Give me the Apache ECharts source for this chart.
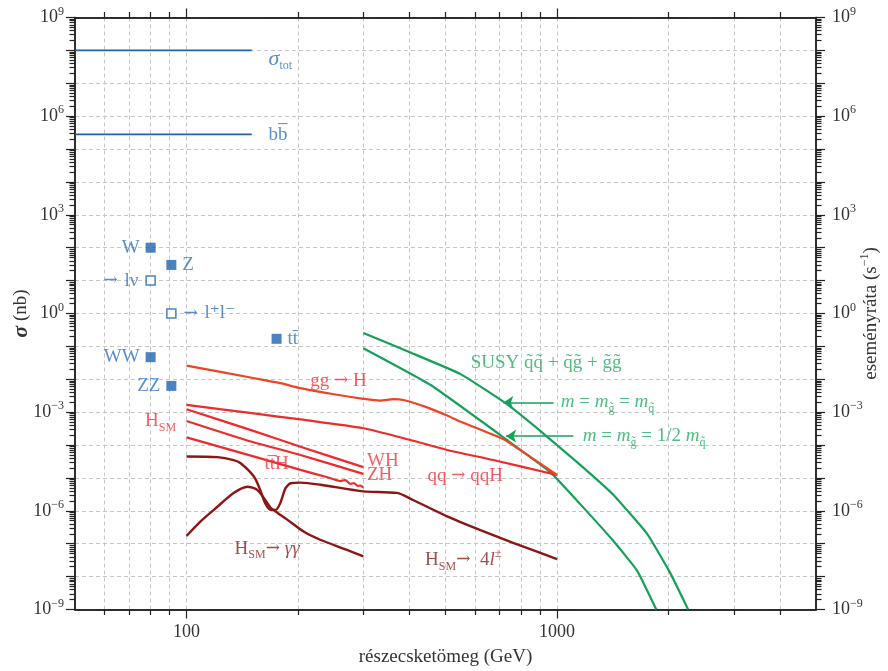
<!DOCTYPE html>
<html>
<head>
<meta charset="utf-8">
<script src="https://cdn.jsdelivr.net/npm/echarts@6/dist/echarts.min.js"></script>
<style>
html, body { margin: 0; background: #fff; }
#chart { width: 888px; height: 671px; }
</style>
</head>
<body>
<div id="chart"></div>
<script>
// tick values
const xMajor = [100, 1000];
const xMinor = [60, 70, 80, 90, 200, 300, 400, 500, 600, 700, 800, 900, 2000, 3000, 4000];
const yDecades = [1e-9, 1e-8, 1e-7, 1e-6, 1e-5, 1e-4, 1e-3, 1e-2, 1e-1, 1, 1e1, 1e2, 1e3, 1e4, 1e5, 1e6, 1e7, 1e8, 1e9];
const yLabels = [1e-9, 1e-6, 1e-3, 1, 1e3, 1e6, 1e9];
const yMinor = [];
for (let e = -9; e < 9; e++) for (let k = 2; k <= 9; k++) yMinor.push(k * Math.pow(10, e));

// cross sections (nb) vs mass (GeV)
const sigmaTot = [[50, 1e8], [150, 1e8]];
const bbbar = [[50, 2.8e5], [150, 2.8e5]];
const filledPts = [['W', 80, 100], ['Z', 91, 30], ['tt\u0304', 175, 0.17], ['WW', 80, 0.047], ['ZZ', 91, 0.0063]];
const openPts = [['l\u03bd', 80, 10], ['l\u207al\u207b', 91, 1]];

const ggH = [[100, 0.026], [150, 0.0111], [179, 7.6e-3], [203, 5.4e-3], [250, 3.5e-3], [300, 2.55e-3], [333, 2.25e-3],
  [362, 2.5e-3], [385, 2.35e-3], [446, 1.4e-3], [505, 7.9e-4], [548, 5.2e-4], [717, 1.5e-4], [794, 7.1e-5], [1000, 1.23e-5]];
const qqH = [[100, 1.67e-3], [150, 9.3e-4], [203, 6.0e-4], [300, 3.25e-4], [400, 1.45e-4], [505, 7.1e-5], [673, 3.5e-5], [1000, 1.23e-5]];
const WH = [[100, 1.22e-3], [150, 2.8e-4], [203, 8.9e-5], [300, 2.13e-5]];
const ZH = [[100, 5.4e-4], [150, 1.26e-4], [203, 5.0e-5], [300, 1.33e-5]];
const ttH = [[100, 1.71e-4], [150, 4.7e-5], [203, 1.76e-5], [240, 1.05e-5], [260, 8.05e-6], [268, 8.6e-6], [277, 6.6e-6],
  [283, 7.0e-6], [290, 5.7e-6], [294, 5.9e-6], [300, 5.1e-6]];
const Hgg = [[100, 1.74e-7], [109, 4.7e-7], [118.5, 1.07e-6], [134, 3.47e-6], [146, 5.4e-6], [155, 4.4e-6], [161.5, 2.5e-6],
  [168.5, 1.26e-6], [175.5, 8.9e-7], [187, 5.4e-7], [207, 2.34e-7], [229.5, 1.32e-7], [271, 6.5e-8], [300, 4.1e-8]];
const H4l = [[100, 4.5e-5], [121, 4.3e-5], [134, 3.5e-5], [140, 2.8e-5], [152, 1.1e-5], [158, 4.4e-6], [163, 1.7e-6],
  [168.5, 1.07e-6], [174, 1.07e-6], [179, 1.7e-6], [185, 4.9e-6], [191, 6.9e-6], [203, 7.2e-6], [230, 6.2e-6], [300, 3.9e-6],
  [370, 3.5e-6], [410, 2.1e-6], [505, 6.8e-7], [621, 2.6e-7], [764, 1.05e-7], [1000, 3.4e-8]];
const susyEq = [[300, 0.257], [402, 0.065], [548, 0.0146], [725, 1.91e-3], [901, 2.7e-4], [1155, 2.5e-5], [1418, 3.1e-6],
  [1751, 2.0e-7], [2020, 1.3e-8], [2259, 1e-9]];
const susyHalf = [[300, 0.088], [455, 6.8e-3], [734, 1.41e-4], [959, 1.5e-5], [1155, 1.6e-6], [1418, 1.23e-7], [1646, 1.5e-8], [1853, 1e-9]];

// annotation arrows: [x from, x to, y]
const arrows = [[979, 716, 1.96e-3], [1106, 729, 1.86e-4]];

const FONT = '"Liberation Serif", "DejaVu Serif", serif';
const ARROW_FONT = '"DejaVu Serif", serif';
const BLUE = '#1d63b3', BLUE_T = '#2f72c0';
const RED = '#ee2a2a', ORANGE = '#ef4326', RED_T = '#f0353c';
const DARK = '#8c1616', DARK_T = '#8e1c1c';
const GREEN = '#16a05a', GREEN_T = '#22ad62';
const GRID = '#c6c6c6', AXIS = '#222';

const rich = {
  r: { fontFamily: FONT, fontSize: 19 },
  a: { fontFamily: ARROW_FONT, fontSize: 17 },
  i: { fontFamily: FONT, fontSize: 19, fontStyle: 'italic' },
  is: { fontFamily: FONT, fontSize: 22, fontStyle: 'italic' },
  sub: { fontFamily: FONT, fontSize: 12, padding: [13, 0, 0, 0] },
  sup: { fontFamily: FONT, fontSize: 12, padding: [0, 0, 13, 0] }
};
function withColor(c) {
  const out = {};
  Object.keys(rich).forEach(k => { out[k] = Object.assign({ color: c }, rich[k]); });
  return out;
}

const notes = [
  [166, 5.5e7, '{is|\u03c3}{sub|tot}', 'right', BLUE_T],
  [166, 2.7e5, '{r|bb\u0305}', 'right', BLUE_T],
  [85.1, 5.4e-4, '{r|H}{sub|SM}', 'inside', RED_T],
  [257, 8.9e-3, '{r|gg }{a|\u2192}{r| H}', 'inside', RED_T],
  [175, 2.7e-5, '{r|tt\u0305H}', 'inside', RED_T],
  [306, 3.3e-5, '{r|WH}', 'right', RED_T],
  [306, 1.2e-5, '{r|ZH}', 'right', RED_T],
  [565, 1.16e-5, '{r|qq }{a|\u2192}{r| qqH}', 'inside', RED_T],
  [165, 7e-8, '{r|H}{sub|SM}{a|\u2192}{r| }{i|\u03b3\u03b3}', 'inside', DARK_T],
  [558, 3.2e-8, '{r|H}{sub|SM}{a|\u2192}{r|  4}{i|l}{sup|\u00b1}', 'inside', DARK_T],
  [583, 0.032, '{r|SUSY q\u0303q\u0303 + q\u0303g\u0303 + g\u0303g\u0303}', 'right', GREEN_T],
  [1020, 2.06e-3, '{i|m}{r| = }{i|m}{sub|g\u0303}{r| = }{i|m}{sub|q\u0303}', 'right', GREEN_T],
  [1170, 1.9e-4, '{i|m}{r| = }{i|m}{sub|g\u0303}{r| = 1/2 }{i|m}{sub|q\u0303}', 'right', GREEN_T]
];
const markerSide = { 'W': 'left', 'Z': 'right', 'tt\u0304': 'right', 'WW': 'left', 'ZZ': 'left', 'l\u03bd': 'left', 'l\u207al\u207b': 'right' };

function supLabel(v) {
  const e = Math.round(Math.log10(v));
  return '{b|10}{s|' + (e < 0 ? '\u2212' + (-e) : e) + '}';
}
const tickRich = {
  b: { fontFamily: FONT, fontSize: 18, color: '#333' },
  s: { fontFamily: FONT, fontSize: 12, color: '#333', padding: [0, 0, 12, 0] }
};
const gridLine = { show: true, lineStyle: { color: GRID, type: [4, 3], width: 1 } };
const axLine = { show: true, lineStyle: { color: AXIS, width: 1.5 } };

function xAxisDef(pos, ticks, len, labels, split) {
  return {
    type: 'log', logBase: 10, min: 50, max: 5000, position: pos,
    axisLine: axLine,
    axisTick: { show: true, customValues: ticks, length: len, lineStyle: { color: AXIS, width: 1.2 } },
    axisLabel: labels ? { show: true, customValues: ticks, margin: 14, fontFamily: FONT, fontSize: 18, color: '#333', formatter: v => String(Math.round(v)) } : { show: false },
    splitLine: split ? gridLine : { show: false },
    minorTick: { show: false }
  };
}
function yAxisDef(pos, ticks, len, labels, split) {
  return {
    type: 'log', logBase: 10, min: 1e-9, max: 1e9, position: pos,
    axisLine: axLine,
    axisTick: { show: true, customValues: ticks, length: len, lineStyle: { color: AXIS, width: 1.2 } },
    axisLabel: labels ? { show: true, customValues: yLabels, margin: pos === 'left' ? 11 : 16, formatter: supLabel, rich: tickRich } : { show: false },
    splitLine: split ? gridLine : { show: false }
  };
}

const xAxes = [
  xAxisDef('bottom', xMajor, 9, true, true),
  xAxisDef('bottom', xMinor, 5.5, false, true),
  xAxisDef('top', xMajor, 9, false, false),
  xAxisDef('top', xMinor, 5.5, false, false)
];
Object.assign(xAxes[0], {
  name: 'r\u00e9szecsket\u00f6meg (GeV)', nameLocation: 'middle', nameGap: 38, nameMoveOverlap: false,
  nameTextStyle: { fontFamily: FONT, fontSize: 19, color: '#333' }
});
const yAxes = [
  yAxisDef('left', yDecades, 9, true, true),
  yAxisDef('left', yMinor, 5.5, false, false),
  yAxisDef('right', yDecades, 9, true, false),
  yAxisDef('right', yMinor, 5.5, false, false)
];
Object.assign(yAxes[0], {
  name: '{s|\u03c3}{n| (nb)}', nameLocation: 'middle', nameGap: 43, nameMoveOverlap: false,
  nameTextStyle: { rich: { s: { fontFamily: FONT, fontSize: 22, fontStyle: 'italic', fontWeight: 'bold', color: '#333' }, n: { fontFamily: FONT, fontSize: 19, color: '#333' } } }
});
Object.assign(yAxes[2], {
  name: '{n|esem\u00e9nyr\u00e1ta (s}{s|\u22121}{n|)}', nameLocation: 'middle', nameGap: 43, nameMoveOverlap: false,
  nameTextStyle: { rich: { n: { fontFamily: FONT, fontSize: 19, color: '#333' }, s: { fontFamily: FONT, fontSize: 12, color: '#333', padding: [0, 0, 12, 0] } } }
});

function curve(data, color, width, smooth) {
  return { type: 'line', data: data, showSymbol: false, symbol: 'none', smooth: smooth == null ? 0.25 : smooth, clip: true,
    lineStyle: { color: color, width: width }, silent: true, z: 3 };
}

const series = [
  { type: 'line', data: sigmaTot, symbol: 'none', lineStyle: { color: BLUE, width: 1.6 }, silent: true },
  { type: 'line', data: bbbar, symbol: 'none', lineStyle: { color: BLUE, width: 1.6 }, silent: true },
  curve(susyEq, GREEN, 2.2, 0.12),
  curve(susyHalf, GREEN, 2.2, 0.12),
  {
    type: 'line', data: [], silent: true,
    markLine: {
      silent: true, symbol: ['none', 'arrow'], symbolSize: 10, animation: false,
      lineStyle: { color: GREEN, width: 1.6, type: 'solid' }, label: { show: false },
      data: arrows.map(a => [{ coord: [a[0], a[2]] }, { coord: [a[1], a[2]] }])
    }
  },
  curve(Hgg, DARK, 2.4),
  curve(H4l, DARK, 2.4),
  curve(ttH, RED, 2.2),
  curve(ZH, RED, 2.2),
  curve(WH, RED, 2.2),
  curve(qqH, RED, 2.2),
  curve(ggH, ORANGE, 2.2),
  {
    type: 'scatter', symbol: 'rect', symbolSize: 10, silent: true, z: 5,
    itemStyle: { color: BLUE },
    data: filledPts.map(p => ({ name: p[0], value: [p[1], p[2]], label: { position: markerSide[p[0]] } })),
    label: { show: true, formatter: '{r|{b}}', distance: 6, rich: withColor(BLUE_T) }
  },
  {
    type: 'scatter', symbol: 'rect', symbolSize: 9, silent: true, z: 5,
    itemStyle: { color: '#fff', borderColor: BLUE, borderWidth: 1.5 },
    data: openPts.map(p => ({ name: p[0], value: [p[1], p[2]], label: { position: markerSide[p[0]] } })),
    label: { show: true, formatter: '{a|\u2192}  {r|{b}}', distance: 7, rich: withColor(BLUE_T) }
  },
  {
    type: 'scatter', symbolSize: 1, silent: true, z: 6,
    itemStyle: { color: 'rgba(0,0,0,0)' },
    data: notes.map(n => ({ value: [n[0], n[1]], label: { formatter: n[2], position: n[3], rich: withColor(n[4]) } })),
    label: { show: true, distance: 0 }
  }
];

const chart = echarts.init(document.getElementById('chart'), null, { renderer: 'canvas' });
chart.setOption({
  animation: false,
  backgroundColor: '#fff',
  grid: { left: 75, right: 72, top: 17.5, bottom: 61.5, outerBoundsMode: 'none' },
  xAxis: xAxes,
  yAxis: yAxes,
  series: series
});
window.addEventListener('resize', function () { chart.resize(); });
</script>
</body>
</html>
